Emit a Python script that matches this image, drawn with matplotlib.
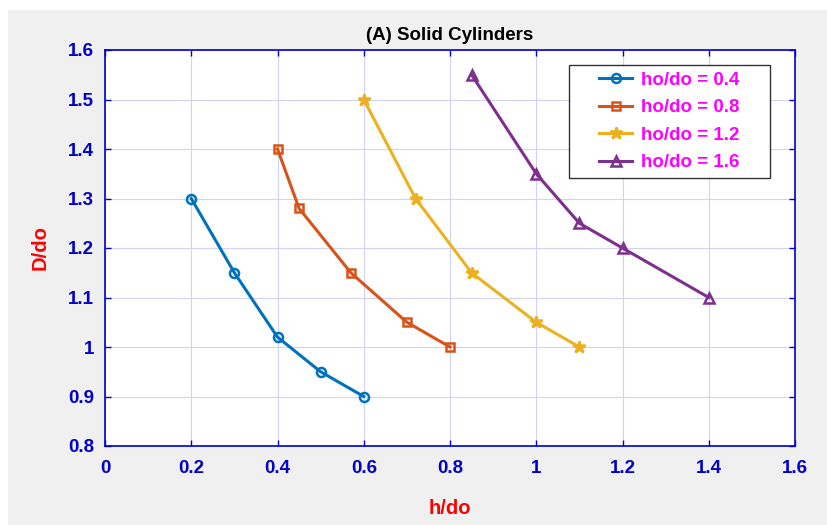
import matplotlib
matplotlib.use("Agg")
import matplotlib.pyplot as plt
from matplotlib.patches import Rectangle

plt.rcParams['font.family'] = ['Liberation Sans', 'DejaVu Sans']

x1 = [0.2, 0.3, 0.4, 0.5, 0.6]
y1 = [1.3, 1.15, 1.02, 0.95, 0.9]
x2 = [0.4, 0.45, 0.57, 0.7, 0.8]
y2 = [1.4, 1.28, 1.15, 1.05, 1.0]
x3 = [0.6, 0.72, 0.85, 1.0, 1.1]
y3 = [1.5, 1.3, 1.15, 1.05, 1.0]
x4 = [0.85, 1.0, 1.1, 1.2, 1.4]
y4 = [1.55, 1.35, 1.25, 1.2, 1.1]
labels = ['ho/do = 0.4', 'ho/do = 0.8', 'ho/do = 1.2', 'ho/do = 1.6']
xticks = [0, 0.2, 0.4, 0.6, 0.8, 1, 1.2, 1.4, 1.6]
yticks = [0.8, 0.9, 1, 1.1, 1.2, 1.3, 1.4, 1.5, 1.6]

W, H = 827, 525
fig = plt.figure(figsize=(W/100, H/100), dpi=100)
fig.patch.set_facecolor('white')
fig.patches.append(Rectangle((8/W, 0), 1, 1 - 10/H, transform=fig.transFigure,
                             facecolor='#f0f0f0', edgecolor='none', zorder=-10))

ax = fig.add_axes([105/W, 1 - 446/H, 690/W, 396/H])
ax.set_facecolor('white')

blue = '#0000c8'
colors = ['#0072bd', '#d95319', '#edb120', '#7e2f8e']
markers = ['o', 's', '*', '^']
msizes = [6.5, 6, 9, 7]
for (x, y, c, m, ms, lab) in zip([x1, x2, x3, x4], [y1, y2, y3, y4], colors, markers, msizes, labels):
    ax.plot(x, y, color=c, marker=m, markersize=ms, markerfacecolor='none' if m != '*' else c,
            markeredgewidth=1.8, linewidth=2.2, label=lab)

ax.set_xlim(0, 1.6)
ax.set_ylim(0.8, 1.6)
ax.set_xticks(xticks)
ax.set_yticks(yticks)
ax.set_xticklabels([f'{t:g}' for t in xticks])
ax.set_yticklabels([f'{t:g}' for t in yticks])
ax.grid(True, color='#d2d2f5', linewidth=0.8)
ax.set_axisbelow(True)
for s in ax.spines.values():
    s.set_color(blue)
    s.set_linewidth(1.2)
ax.tick_params(axis='both', direction='in', top=True, right=True, colors=blue,
               labelsize=13.5, length=4, width=1)
ax.tick_params(axis='x', pad=10)
ax.tick_params(axis='y', pad=8)
for lbl in ax.get_xticklabels() + ax.get_yticklabels():
    lbl.set_fontweight('bold')
    lbl.set_color(blue)

ax.set_title('(A) Solid Cylinders', fontsize=13.5, fontweight='bold', color='black', pad=7)
ax.set_xlabel('h/do', fontsize=14.5, fontweight='bold', color='red', labelpad=16)
ax.set_ylabel('D/do', fontsize=14.5, fontweight='bold', color='red', labelpad=13)

# legend box drawn manually (wider horizontal padding like the reference)
bx0, by0, bx1, by1 = 569, 65, 770, 178
box = Rectangle((bx0/W, 1 - by1/H), (bx1-bx0)/W, (by1-by0)/H,
                transform=fig.transFigure, facecolor='white',
                edgecolor='#333333', linewidth=1, zorder=4, clip_on=False)
ax.add_patch(box)
leg = ax.legend(loc='center', bbox_to_anchor=((bx0+bx1)/2/W, 1 - (by0+by1)/2/H),
                bbox_transform=fig.transFigure, frameon=False, fontsize=13.5,
                borderpad=0, labelspacing=0.55, handlelength=1.75, handletextpad=0.5,
                borderaxespad=0)
leg.set_zorder(6)
for t in leg.get_texts():
    t.set_color('#ff00ff')
    t.set_fontweight('bold')

fig.savefig('out.png', dpi=100)
